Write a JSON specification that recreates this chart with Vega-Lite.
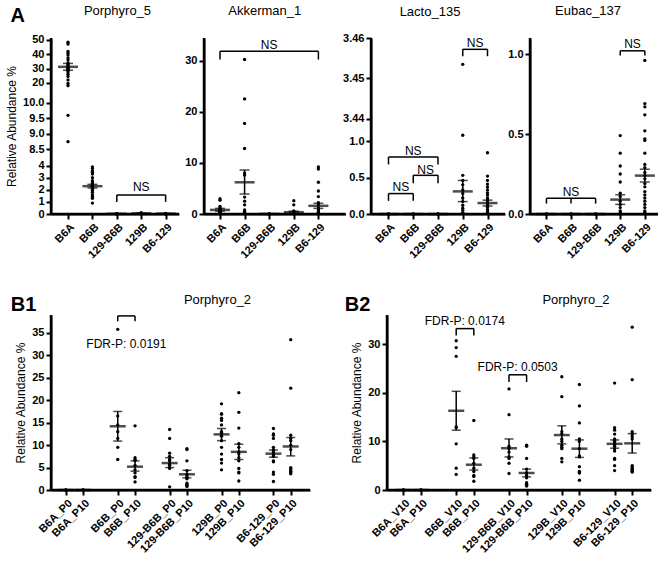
{
"$schema": "https://vega.github.io/schema/vega-lite/v6.json",
"padding": {"left": 5, "top": 4, "right": 0, "bottom": 0},
"config": {
 "font": "Liberation Sans",
 "view": {"stroke": null},
 "axis": {"domain": true, "domainColor": "#000", "domainWidth": 2, "tickColor": "#000", "tickWidth": 2, "tickSize": 5, "labelColor": "#000", "labelFont": "Liberation Sans", "labelFontSize": 11, "labelFontWeight": "bold", "labelPadding": 2, "labelOverlap": false, "titleColor": "#000", "titleFont": "Liberation Sans", "titleFontSize": 12, "titleFontWeight": "normal", "titlePadding": 4, "grid": false},
 "title": {"font": "Liberation Sans", "fontSize": 13, "fontWeight": "normal", "color": "#000", "baseline": "bottom"},
 "mark": {"color": "#000"}
},
"datasets": {
 "one": [{}],
 "p5": [
  {"g":"B6A","v":48.5},{"g":"B6A","v":47.2},{"g":"B6A","v":42.0},{"g":"B6A","v":40.8},{"g":"B6A","v":39.5},{"g":"B6A","v":37.5},{"g":"B6A","v":36.0},{"g":"B6A","v":34.0},{"g":"B6A","v":33.0},{"g":"B6A","v":32.0},{"g":"B6A","v":31.5},{"g":"B6A","v":31.0},{"g":"B6A","v":30.5},{"g":"B6A","v":30.0},{"g":"B6A","v":29.5},{"g":"B6A","v":28.5},{"g":"B6A","v":27.5},{"g":"B6A","v":26.0},{"g":"B6A","v":24.5},{"g":"B6A","v":22.0},{"g":"B6A","v":19.5},{"g":"B6A","v":18.0},{"g":"B6A","v":9.6},{"g":"B6A","v":8.75},
  {"g":"B6B","v":3.9},{"g":"B6B","v":3.75},{"g":"B6B","v":3.55},{"g":"B6B","v":3.45},{"g":"B6B","v":3.3},{"g":"B6B","v":3.0},{"g":"B6B","v":2.75},{"g":"B6B","v":2.6},{"g":"B6B","v":2.5},{"g":"B6B","v":2.4},{"g":"B6B","v":2.35},{"g":"B6B","v":2.3},{"g":"B6B","v":2.25},{"g":"B6B","v":2.2},{"g":"B6B","v":2.1},{"g":"B6B","v":2.0},{"g":"B6B","v":1.95},{"g":"B6B","v":1.8},{"g":"B6B","v":1.6},{"g":"B6B","v":1.45},{"g":"B6B","v":1.3},{"g":"B6B","v":0.9},
  {"g":"129-B6B","v":0.02},{"g":"129-B6B","v":0.01},{"g":"129-B6B","v":0.03},{"g":"129-B6B","v":0.0},
  {"g":"129B","v":0.08},{"g":"129B","v":0.05},{"g":"129B","v":0.1},{"g":"129B","v":0.03},
  {"g":"B6-129","v":0.05},{"g":"B6-129","v":0.02},{"g":"B6-129","v":0.03},{"g":"B6-129","v":0.0}
 ],
 "p5s": [
  {"g":"B6A","m":31.2,"lo":28.8,"hi":33.6},{"g":"B6B","m":2.3,"lo":2.15,"hi":2.45},{"g":"129-B6B","m":0.02,"lo":0.01,"hi":0.03},{"g":"129B","m":0.05,"lo":0.03,"hi":0.07},{"g":"B6-129","m":0.03,"lo":0.02,"hi":0.04}
 ],
 "p5h": [{"x1":"129-B6B","x2":"B6-129","y":1.58}],
 "p5l": [{"x":"129-B6B","y":1.58,"y0":1.0},{"x":"B6-129","y":1.58,"y0":1.0}],
 "p5t": [{"x":"129B","y":2.25,"t":"NS"}],
 "akk": [
  {"g":"B6A","v":3.0},{"g":"B6A","v":2.7},{"g":"B6A","v":1.5},{"g":"B6A","v":1.2},{"g":"B6A","v":1.0},{"g":"B6A","v":0.9},{"g":"B6A","v":0.8},{"g":"B6A","v":0.6},{"g":"B6A","v":0.5},{"g":"B6A","v":0.4},{"g":"B6A","v":0.3},{"g":"B6A","v":0.2},{"g":"B6A","v":0.1},{"g":"B6A","v":0.05},
  {"g":"B6B","v":30.2},{"g":"B6B","v":22.5},{"g":"B6B","v":17.7},{"g":"B6B","v":12.8},{"g":"B6B","v":8.0},{"g":"B6B","v":7.6},{"g":"B6B","v":3.3},{"g":"B6B","v":2.5},{"g":"B6B","v":1.8},{"g":"B6B","v":0.8},{"g":"B6B","v":0.5},{"g":"B6B","v":0.3},{"g":"B6B","v":0.2},{"g":"B6B","v":0.1},
  {"g":"129-B6B","v":0.02},{"g":"129-B6B","v":0.01},{"g":"129-B6B","v":0.0},
  {"g":"129B","v":2.6},{"g":"129B","v":1.8},{"g":"129B","v":0.6},{"g":"129B","v":0.4},{"g":"129B","v":0.2},{"g":"129B","v":0.1},{"g":"129B","v":0.05},
  {"g":"B6-129","v":9.2},{"g":"B6-129","v":8.8},{"g":"B6-129","v":6.2},{"g":"B6-129","v":4.5},{"g":"B6-129","v":3.4},{"g":"B6-129","v":2.2},{"g":"B6-129","v":1.8},{"g":"B6-129","v":1.2},{"g":"B6-129","v":0.9},{"g":"B6-129","v":0.6},{"g":"B6-129","v":0.4},{"g":"B6-129","v":0.3},{"g":"B6-129","v":0.2},{"g":"B6-129","v":0.1},{"g":"B6-129","v":0.05}
 ],
 "akks": [
  {"g":"B6A","m":0.8,"lo":0.55,"hi":1.1},{"g":"B6B","m":6.2,"lo":3.9,"hi":8.6},{"g":"129-B6B","m":0.02,"lo":0.01,"hi":0.03},{"g":"129B","m":0.35,"lo":0.15,"hi":0.55},{"g":"B6-129","m":1.6,"lo":1.1,"hi":2.1}
 ],
 "akkh": [{"x1":"B6A","x2":"B6-129","y":31.8}],
 "akkl": [{"x":"B6A","y":31.8,"y0":30.2},{"x":"B6-129","y":31.8,"y0":30.2}],
 "akkt": [{"x":"129-B6B","y":33.1,"t":"NS"}],
 "lac": [
  {"g":"B6A","v":0},{"g":"B6A","v":0},{"g":"B6B","v":0},{"g":"B6B","v":0},{"g":"129-B6B","v":0},{"g":"129-B6B","v":0},
  {"g":"129B","v":3.4535},{"g":"129B","v":1.08},{"g":"129B","v":0.53},{"g":"129B","v":0.46},{"g":"129B","v":0.40},{"g":"129B","v":0.33},{"g":"129B","v":0.28},{"g":"129B","v":0.22},{"g":"129B","v":0.17},{"g":"129B","v":0.12},{"g":"129B","v":0.08},{"g":"129B","v":0.05},{"g":"129B","v":0.02},{"g":"129B","v":0.01},
  {"g":"B6-129","v":0.84},{"g":"B6-129","v":0.52},{"g":"B6-129","v":0.46},{"g":"B6-129","v":0.41},{"g":"B6-129","v":0.37},{"g":"B6-129","v":0.33},{"g":"B6-129","v":0.29},{"g":"B6-129","v":0.26},{"g":"B6-129","v":0.22},{"g":"B6-129","v":0.19},{"g":"B6-129","v":0.16},{"g":"B6-129","v":0.13},{"g":"B6-129","v":0.11},{"g":"B6-129","v":0.09},{"g":"B6-129","v":0.06},{"g":"B6-129","v":0.04},{"g":"B6-129","v":0.02},{"g":"B6-129","v":0.01}
 ],
 "lacs": [
  {"g":"B6A","m":0,"lo":0,"hi":0},{"g":"B6B","m":0,"lo":0,"hi":0},{"g":"129-B6B","m":0,"lo":0,"hi":0},{"g":"129B","m":0.31,"lo":0.17,"hi":0.46},{"g":"B6-129","m":0.15,"lo":0.11,"hi":0.19}
 ],
 "lach": [{"x1":"B6A","x2":"B6B","y":0.28},{"x1":"B6B","x2":"129-B6B","y":0.53},{"x1":"B6A","x2":"129-B6B","y":0.78},{"x1":"129B","x2":"B6-129","y":3.4572}],
 "lacl": [{"x":"B6A","y":0.28,"y0":0.18},{"x":"B6B","y":0.28,"y0":0.18},{"x":"B6B","y":0.53,"y0":0.42},{"x":"129-B6B","y":0.53,"y0":0.42},{"x":"B6A","y":0.78,"y0":0.68},{"x":"129-B6B","y":0.78,"y0":0.68},{"x":"129B","y":3.4572,"y0":3.4555},{"x":"B6-129","y":3.4572,"y0":3.4555}],
 "lact": [{"x":"B6B","y":0.86,"t":"NS"}],
 "lacth": [{"x":"B6A","y":0.37,"t":"NS"},{"x":"B6B","y":0.61,"t":"NS"},{"x":"129B","y":3.4588,"t":"NS"}],
 "eub": [
  {"g":"B6A","v":0},{"g":"B6A","v":0},{"g":"B6B","v":0},{"g":"B6B","v":0},{"g":"129-B6B","v":0},{"g":"129-B6B","v":0},
  {"g":"129B","v":0.49},{"g":"129B","v":0.38},{"g":"129B","v":0.30},{"g":"129B","v":0.25},{"g":"129B","v":0.20},{"g":"129B","v":0.13},{"g":"129B","v":0.11},{"g":"129B","v":0.08},{"g":"129B","v":0.06},{"g":"129B","v":0.04},{"g":"129B","v":0.02},{"g":"129B","v":0.01},{"g":"129B","v":0.0},
  {"g":"B6-129","v":0.96},{"g":"B6-129","v":0.69},{"g":"B6-129","v":0.67},{"g":"B6-129","v":0.62},{"g":"B6-129","v":0.52},{"g":"B6-129","v":0.47},{"g":"B6-129","v":0.46},{"g":"B6-129","v":0.38},{"g":"B6-129","v":0.31},{"g":"B6-129","v":0.29},{"g":"B6-129","v":0.26},{"g":"B6-129","v":0.24},{"g":"B6-129","v":0.22},{"g":"B6-129","v":0.19},{"g":"B6-129","v":0.17},{"g":"B6-129","v":0.14},{"g":"B6-129","v":0.12},{"g":"B6-129","v":0.10},{"g":"B6-129","v":0.08},{"g":"B6-129","v":0.06},{"g":"B6-129","v":0.04},{"g":"B6-129","v":0.02},{"g":"B6-129","v":0.01}
 ],
 "eubs": [
  {"g":"B6A","m":0,"lo":0,"hi":0},{"g":"B6B","m":0,"lo":0,"hi":0},{"g":"129-B6B","m":0,"lo":0,"hi":0},{"g":"129B","m":0.09,"lo":0.06,"hi":0.12},{"g":"B6-129","m":0.24,"lo":0.20,"hi":0.28}
 ],
 "eubh": [{"x1":"B6A","x2":"129-B6B","y":0.098},{"x1":"129B","x2":"B6-129","y":1.02}],
 "eubl": [{"x":"B6A","y":0.098,"y0":0.065},{"x":"B6B","y":0.098,"y0":0.065},{"x":"129-B6B","y":0.098,"y0":0.065},{"x":"129B","y":1.02,"y0":0.99},{"x":"B6-129","y":1.02,"y0":0.99}],
 "eubt": [{"x":"B6B","y":0.14,"t":"NS"}],
 "eubth": [{"x":"129B","y":1.065,"t":"NS"}],
 "b1": [
  {"x":"B6A_P0","v":0},{"x":"B6A_P0","v":0},{"x":"B6A_P10","v":0},{"x":"B6A_P10","v":0},
  {"x":"B6B_P0","v":35.8},{"x":"B6B_P0","v":16.5},{"x":"B6B_P0","v":14.5},{"x":"B6B_P0","v":13.0},{"x":"B6B_P0","v":11.5},{"x":"B6B_P0","v":9.5},{"x":"B6B_P0","v":6.8},
  {"x":"B6B_P10","v":14.3},{"x":"B6B_P10","v":7.2},{"x":"B6B_P10","v":6.8},{"x":"B6B_P10","v":6.5},{"x":"B6B_P10","v":5.5},{"x":"B6B_P10","v":4.5},{"x":"B6B_P10","v":3.8},{"x":"B6B_P10","v":3.0},{"x":"B6B_P10","v":2.8},{"x":"B6B_P10","v":1.8},
  {"x":"129-B6B_P0","v":13.5},{"x":"129-B6B_P0","v":11.5},{"x":"129-B6B_P0","v":8.2},{"x":"129-B6B_P0","v":7.5},{"x":"129-B6B_P0","v":6.8},{"x":"129-B6B_P0","v":6.5},{"x":"129-B6B_P0","v":5.8},{"x":"129-B6B_P0","v":5.5},{"x":"129-B6B_P0","v":5.0},{"x":"129-B6B_P0","v":4.8},{"x":"129-B6B_P0","v":0.7},
  {"x":"129-B6B_P10","v":9.2},{"x":"129-B6B_P10","v":9.0},{"x":"129-B6B_P10","v":6.5},{"x":"129-B6B_P10","v":4.3},{"x":"129-B6B_P10","v":3.5},{"x":"129-B6B_P10","v":3.0},{"x":"129-B6B_P10","v":2.7},{"x":"129-B6B_P10","v":2.5},{"x":"129-B6B_P10","v":1.5},{"x":"129-B6B_P10","v":1.2},{"x":"129-B6B_P10","v":1.0},{"x":"129-B6B_P10","v":0.8},
  {"x":"129B_P0","v":19.2},{"x":"129B_P0","v":17.0},{"x":"129B_P0","v":16.9},{"x":"129B_P0","v":16.0},{"x":"129B_P0","v":15.5},{"x":"129B_P0","v":14.5},{"x":"129B_P0","v":13.0},{"x":"129B_P0","v":12.8},{"x":"129B_P0","v":12.5},{"x":"129B_P0","v":12.0},{"x":"129B_P0","v":11.0},{"x":"129B_P0","v":9.5},{"x":"129B_P0","v":8.0},{"x":"129B_P0","v":6.8},{"x":"129B_P0","v":6.0},{"x":"129B_P0","v":4.5},
  {"x":"129B_P10","v":21.7},{"x":"129B_P10","v":17.3},{"x":"129B_P10","v":13.8},{"x":"129B_P10","v":10.3},{"x":"129B_P10","v":9.5},{"x":"129B_P10","v":8.5},{"x":"129B_P10","v":8.0},{"x":"129B_P10","v":7.2},{"x":"129B_P10","v":6.5},{"x":"129B_P10","v":4.8},{"x":"129B_P10","v":4.0},{"x":"129B_P10","v":3.8},{"x":"129B_P10","v":2.0},
  {"x":"B6-129_P0","v":13.7},{"x":"B6-129_P0","v":12.5},{"x":"B6-129_P0","v":12.2},{"x":"B6-129_P0","v":11.5},{"x":"B6-129_P0","v":9.5},{"x":"B6-129_P0","v":9.0},{"x":"B6-129_P0","v":8.5},{"x":"B6-129_P0","v":8.0},{"x":"B6-129_P0","v":7.8},{"x":"B6-129_P0","v":7.5},{"x":"B6-129_P0","v":6.5},{"x":"B6-129_P0","v":6.3},{"x":"B6-129_P0","v":4.0},{"x":"B6-129_P0","v":3.5},{"x":"B6-129_P0","v":1.9},
  {"x":"B6-129_P10","v":33.5},{"x":"B6-129_P10","v":22.7},{"x":"B6-129_P10","v":12.2},{"x":"B6-129_P10","v":11.5},{"x":"B6-129_P10","v":11.0},{"x":"B6-129_P10","v":10.0},{"x":"B6-129_P10","v":9.0},{"x":"B6-129_P10","v":5.0},{"x":"B6-129_P10","v":4.8},{"x":"B6-129_P10","v":4.5},{"x":"B6-129_P10","v":4.2},{"x":"B6-129_P10","v":4.0},{"x":"B6-129_P10","v":3.8},{"x":"B6-129_P10","v":3.6}
 ],
 "b1s": [
  {"x":"B6A_P0","m":0,"lo":0,"hi":0},{"x":"B6A_P10","m":0,"lo":0,"hi":0},
  {"x":"B6B_P0","m":14.2,"lo":10.9,"hi":17.5},{"x":"B6B_P10","m":5.2,"lo":4.2,"hi":6.5},
  {"x":"129-B6B_P0","m":6.0,"lo":5.0,"hi":7.2},{"x":"129-B6B_P10","m":3.5,"lo":2.7,"hi":4.4},
  {"x":"129B_P0","m":12.4,"lo":11.0,"hi":13.7},{"x":"129B_P10","m":8.5,"lo":6.8,"hi":10.2},
  {"x":"B6-129_P0","m":8.1,"lo":7.3,"hi":8.9},{"x":"B6-129_P10","m":9.7,"lo":7.6,"hi":11.7}
 ],
 "b1h": [{"x1":"B6B_P0","x2":"B6B_P10","y":38.8}],
 "b1l": [{"x":"B6B_P0","y":38.8,"y0":37.6},{"x":"B6B_P10","y":38.8,"y0":37.6}],
 "b1t": [{"x":"B6B_P0","y":32.6,"t":"FDR-P: 0.0191"}],
 "b2": [
  {"x":"B6A_V10","v":0},{"x":"B6A_V10","v":0},{"x":"B6A_P10","v":0},{"x":"B6A_P10","v":0},
  {"x":"B6B_V10","v":30.7},{"x":"B6B_V10","v":29.3},{"x":"B6B_V10","v":27.5},{"x":"B6B_V10","v":13.0},{"x":"B6B_V10","v":12.8},{"x":"B6B_V10","v":9.5},{"x":"B6B_V10","v":4.5},{"x":"B6B_V10","v":3.2},
  {"x":"B6B_P10","v":14.3},{"x":"B6B_P10","v":7.2},{"x":"B6B_P10","v":6.8},{"x":"B6B_P10","v":6.5},{"x":"B6B_P10","v":5.5},{"x":"B6B_P10","v":4.5},{"x":"B6B_P10","v":3.8},{"x":"B6B_P10","v":3.0},{"x":"B6B_P10","v":2.8},{"x":"B6B_P10","v":1.8},
  {"x":"129-B6B_V10","v":20.8},{"x":"129-B6B_V10","v":15.5},{"x":"129-B6B_V10","v":9.0},{"x":"129-B6B_V10","v":8.5},{"x":"129-B6B_V10","v":7.8},{"x":"129-B6B_V10","v":6.8},{"x":"129-B6B_V10","v":6.5},{"x":"129-B6B_V10","v":5.5},{"x":"129-B6B_V10","v":3.4},
  {"x":"129-B6B_P10","v":9.2},{"x":"129-B6B_P10","v":9.0},{"x":"129-B6B_P10","v":6.5},{"x":"129-B6B_P10","v":4.3},{"x":"129-B6B_P10","v":3.5},{"x":"129-B6B_P10","v":3.0},{"x":"129-B6B_P10","v":2.5},{"x":"129-B6B_P10","v":1.5},{"x":"129-B6B_P10","v":1.2},{"x":"129-B6B_P10","v":1.0},{"x":"129-B6B_P10","v":0.8},
  {"x":"129B_V10","v":23.3},{"x":"129B_V10","v":19.2},{"x":"129B_V10","v":12.0},{"x":"129B_V10","v":11.5},{"x":"129B_V10","v":10.5},{"x":"129B_V10","v":10.0},{"x":"129B_V10","v":9.2},{"x":"129B_V10","v":8.8},{"x":"129B_V10","v":8.5},{"x":"129B_V10","v":6.5},{"x":"129B_V10","v":5.8},
  {"x":"129B_P10","v":21.7},{"x":"129B_P10","v":17.3},{"x":"129B_P10","v":13.8},{"x":"129B_P10","v":10.5},{"x":"129B_P10","v":10.0},{"x":"129B_P10","v":8.5},{"x":"129B_P10","v":7.0},{"x":"129B_P10","v":6.8},{"x":"129B_P10","v":4.8},{"x":"129B_P10","v":3.8},{"x":"129B_P10","v":3.6},{"x":"129B_P10","v":3.5},{"x":"129B_P10","v":2.0},
  {"x":"B6-129_V10","v":22.0},{"x":"B6-129_V10","v":12.8},{"x":"B6-129_V10","v":12.3},{"x":"B6-129_V10","v":11.5},{"x":"B6-129_V10","v":10.5},{"x":"B6-129_V10","v":10.2},{"x":"B6-129_V10","v":10.0},{"x":"B6-129_V10","v":9.5},{"x":"B6-129_V10","v":9.3},{"x":"B6-129_V10","v":9.0},{"x":"B6-129_V10","v":8.5},{"x":"B6-129_V10","v":8.0},{"x":"B6-129_V10","v":6.5},{"x":"B6-129_V10","v":6.3},{"x":"B6-129_V10","v":5.0},{"x":"B6-129_V10","v":4.0},
  {"x":"B6-129_P10","v":33.5},{"x":"B6-129_P10","v":22.7},{"x":"B6-129_P10","v":12.0},{"x":"B6-129_P10","v":11.5},{"x":"B6-129_P10","v":11.0},{"x":"B6-129_P10","v":10.5},{"x":"B6-129_P10","v":5.0},{"x":"B6-129_P10","v":4.8},{"x":"B6-129_P10","v":4.5},{"x":"B6-129_P10","v":4.2},{"x":"B6-129_P10","v":4.0},{"x":"B6-129_P10","v":3.8},{"x":"B6-129_P10","v":3.7}
 ],
 "b2s": [
  {"x":"B6A_V10","m":0,"lo":0,"hi":0},{"x":"B6A_P10","m":0,"lo":0,"hi":0},
  {"x":"B6B_V10","m":16.3,"lo":12.3,"hi":20.3},{"x":"B6B_P10","m":5.2,"lo":4.1,"hi":6.6},
  {"x":"129-B6B_V10","m":8.6,"lo":6.8,"hi":10.5},{"x":"129-B6B_P10","m":3.5,"lo":2.7,"hi":4.3},
  {"x":"129B_V10","m":11.3,"lo":9.5,"hi":13.2},{"x":"129B_P10","m":8.5,"lo":6.7,"hi":10.3},
  {"x":"B6-129_V10","m":9.5,"lo":8.6,"hi":10.3},{"x":"B6-129_P10","m":9.6,"lo":7.6,"hi":11.6}
 ],
 "b2h": [{"x1":"B6B_V10","x2":"B6B_P10","y":33.2},{"x1":"129-B6B_V10","x2":"129-B6B_P10","y":23.7}],
 "b2l": [{"x":"B6B_V10","y":33.2,"y0":31.8},{"x":"B6B_P10","y":33.2,"y0":31.8},{"x":"129-B6B_V10","y":23.7,"y0":22.2},{"x":"129-B6B_P10","y":23.7,"y0":22.2}],
 "b2t": [{"x":"B6B_V10","y":34.8,"t":"FDR-P: 0.0174"},{"x":"129-B6B_V10","y":25.3,"t":"FDR-P: 0.0503"}]
},
"spacing": 33,
"vconcat": [
 {
  "hconcat": [
   {
    "width": 128, "height": 176,
    "title": {"text": "Porphyro_5", "frame": "group", "dx": 2.5, "offset": 15.5},
    "resolve": {"scale": {"x": "independent"}},
    "layer": [
     {"layer": [
     {"data": {"name": "p5"}, "mark": {"type": "circle", "size": 11, "opacity": 1},
      "encoding": {
       "x": {"field": "g", "type": "nominal", "scale": {"type": "point", "domain": ["B6A","B6B","129-B6B","129B","B6-129"], "padding": 0.623, "align": 0.56}, "axis": {"title": null, "labelAngle": -45}},
       "y": {"field": "v", "type": "quantitative", "scale": {"domain": [0, 4.38, 8.48, 10.19, 17.76, 51.4], "range": [176, 123, 112, 59, 48, 0], "nice": false, "zero": false}, "axis": {"title": "Relative Abundance %", "tickCount": 30, "values": [0,1,2,3,4,8.5,9,9.5,10,20,30,40,50], "labelExpr": "datum.value > 5 && datum.value < 15 ? format(datum.value, '.1f') : format(datum.value, 'd')"}}}},
     {"data": {"name": "p5s"}, "mark": {"type": "rule", "strokeWidth": 1.5},
      "encoding": {"x": {"field": "g", "type": "nominal", "title": null}, "y": {"field": "lo", "type": "quantitative"}, "y2": {"field": "hi"}}},
     {"data": {"name": "p5s"}, "mark": {"type": "tick", "size": 20, "thickness": 2.5},
      "encoding": {"x": {"field": "g", "type": "nominal", "title": null}, "y": {"field": "m", "type": "quantitative"}}},
     {"data": {"name": "p5s"}, "mark": {"type": "tick", "size": 10, "thickness": 1.5},
      "encoding": {"x": {"field": "g", "type": "nominal", "title": null}, "y": {"field": "lo", "type": "quantitative"}}},
     {"data": {"name": "p5s"}, "mark": {"type": "tick", "size": 10, "thickness": 1.5},
      "encoding": {"x": {"field": "g", "type": "nominal", "title": null}, "y": {"field": "hi", "type": "quantitative"}}},
     {"data": {"name": "p5h"}, "mark": {"type": "rule", "strokeWidth": 1.5},
      "encoding": {"x": {"field": "x1", "type": "nominal", "title": null}, "x2": {"field": "x2"}, "y": {"field": "y", "type": "quantitative"}}},
     {"data": {"name": "p5l"}, "mark": {"type": "rule", "strokeWidth": 1.5},
      "encoding": {"x": {"field": "x", "type": "nominal", "title": null}, "y": {"field": "y", "type": "quantitative"}, "y2": {"field": "y0"}}},
     {"data": {"name": "p5t"}, "mark": {"type": "text", "fontSize": 12, "baseline": "middle"},
      "encoding": {"x": {"field": "x", "type": "nominal", "title": null}, "y": {"field": "y", "type": "quantitative"}, "text": {"field": "t"}}}
     ]},
     {"data": {"name": "one"}, "mark": {"type": "rule", "strokeWidth": 2.5, "color": "black", "opacity": 1}, "encoding": {"x": {"datum": 0, "type": "quantitative", "scale": {"domain": [0, 1]}, "axis": null}}},
     {"data": {"name": "one"}, "mark": {"type": "rule", "strokeWidth": 2.5, "color": "black", "opacity": 1}, "encoding": {"y": {"datum": 0, "type": "quantitative"}}}
    ]
   },
   {
    "width": 141.5, "height": 176,
    "title": {"text": "Akkerman_1", "frame": "group", "dx": -10, "offset": 19},
    "resolve": {"scale": {"x": "independent"}},
    "layer": [
     {"layer": [
     {"data": {"name": "akk"}, "mark": {"type": "circle", "size": 11, "opacity": 1},
      "encoding": {
       "x": {"field": "g", "type": "nominal", "scale": {"type": "point", "domain": ["B6A","B6B","129-B6B","129B","B6-129"], "padding": 0.876, "align": 0.371}, "axis": {"title": null, "labelAngle": -45}},
       "y": {"field": "v", "type": "quantitative", "scale": {"domain": [0, 34.4], "nice": false}, "axis": {"title": null, "tickCount": 30, "values": [0,10,20,30]}}}},
     {"data": {"name": "akks"}, "mark": {"type": "rule", "strokeWidth": 1.5},
      "encoding": {"x": {"field": "g", "type": "nominal", "title": null}, "y": {"field": "lo", "type": "quantitative", "title": null}, "y2": {"field": "hi"}}},
     {"data": {"name": "akks"}, "mark": {"type": "tick", "size": 20, "thickness": 2.5},
      "encoding": {"x": {"field": "g", "type": "nominal", "title": null}, "y": {"field": "m", "type": "quantitative", "title": null}}},
     {"data": {"name": "akks"}, "mark": {"type": "tick", "size": 10, "thickness": 1.5},
      "encoding": {"x": {"field": "g", "type": "nominal", "title": null}, "y": {"field": "lo", "type": "quantitative", "title": null}}},
     {"data": {"name": "akks"}, "mark": {"type": "tick", "size": 10, "thickness": 1.5},
      "encoding": {"x": {"field": "g", "type": "nominal", "title": null}, "y": {"field": "hi", "type": "quantitative", "title": null}}},
     {"data": {"name": "akkh"}, "mark": {"type": "rule", "strokeWidth": 1.5},
      "encoding": {"x": {"field": "x1", "type": "nominal", "title": null}, "x2": {"field": "x2"}, "y": {"field": "y", "type": "quantitative", "title": null}}},
     {"data": {"name": "akkl"}, "mark": {"type": "rule", "strokeWidth": 1.5},
      "encoding": {"x": {"field": "x", "type": "nominal", "title": null}, "y": {"field": "y", "type": "quantitative", "title": null}, "y2": {"field": "y0"}}},
     {"data": {"name": "akkt"}, "mark": {"type": "text", "fontSize": 12, "baseline": "middle"},
      "encoding": {"x": {"field": "x", "type": "nominal", "title": null}, "y": {"field": "y", "type": "quantitative", "title": null}, "text": {"field": "t"}}}
     ]},
     {"data": {"name": "one"}, "mark": {"type": "rule", "strokeWidth": 2.5, "color": "black", "opacity": 1}, "encoding": {"x": {"datum": 0, "type": "quantitative", "scale": {"domain": [0, 1]}, "axis": null}}},
     {"data": {"name": "one"}, "mark": {"type": "rule", "strokeWidth": 2.5, "color": "black", "opacity": 1}, "encoding": {"y": {"datum": 0, "type": "quantitative"}}}
    ]
   },
   {
    "width": 134, "height": 176,
    "title": {"text": "Lacto_135", "frame": "group", "dx": -8, "offset": 13.5},
    "resolve": {"scale": {"x": "independent"}},
    "layer": [
     {"layer": [
     {"data": {"name": "lac"}, "mark": {"type": "circle", "size": 11, "opacity": 1},
      "encoding": {
       "x": {"field": "g", "type": "nominal", "scale": {"type": "point", "domain": ["B6A","B6B","129-B6B","129B","B6-129"], "padding": 0.707, "align": 0.5}, "axis": {"title": null, "labelAngle": -45}},
       "y": {"field": "v", "type": "quantitative", "scale": {"domain": [0, 1.09, 3.4395, 3.46], "range": [176, 96.5, 83, 0], "nice": false, "zero": false}, "axis": {"title": null, "tickCount": 30, "values": [0,0.5,1,3.44,3.45,3.46], "labelExpr": "datum.value > 2 ? format(datum.value, '.2f') : format(datum.value, '.1f')"}}}},
     {"data": {"name": "lacs"}, "mark": {"type": "rule", "strokeWidth": 1.5},
      "encoding": {"x": {"field": "g", "type": "nominal", "title": null}, "y": {"field": "lo", "type": "quantitative", "title": null}, "y2": {"field": "hi"}}},
     {"data": {"name": "lacs"}, "mark": {"type": "tick", "size": 20, "thickness": 2.5},
      "encoding": {"x": {"field": "g", "type": "nominal", "title": null}, "y": {"field": "m", "type": "quantitative", "title": null}}},
     {"data": {"name": "lacs"}, "mark": {"type": "tick", "size": 10, "thickness": 1.5},
      "encoding": {"x": {"field": "g", "type": "nominal", "title": null}, "y": {"field": "lo", "type": "quantitative", "title": null}}},
     {"data": {"name": "lacs"}, "mark": {"type": "tick", "size": 10, "thickness": 1.5},
      "encoding": {"x": {"field": "g", "type": "nominal", "title": null}, "y": {"field": "hi", "type": "quantitative", "title": null}}},
     {"data": {"name": "lach"}, "mark": {"type": "rule", "strokeWidth": 1.5},
      "encoding": {"x": {"field": "x1", "type": "nominal", "title": null}, "x2": {"field": "x2"}, "y": {"field": "y", "type": "quantitative", "title": null}}},
     {"data": {"name": "lacl"}, "mark": {"type": "rule", "strokeWidth": 1.5},
      "encoding": {"x": {"field": "x", "type": "nominal", "title": null}, "y": {"field": "y", "type": "quantitative", "title": null}, "y2": {"field": "y0"}}},
     {"data": {"name": "lact"}, "mark": {"type": "text", "fontSize": 12, "baseline": "middle"},
      "encoding": {"x": {"field": "x", "type": "nominal", "title": null}, "y": {"field": "y", "type": "quantitative", "title": null}, "text": {"field": "t"}}},
     {"data": {"name": "lacth"}, "mark": {"type": "text", "fontSize": 12, "baseline": "middle", "dx": 12.4},
      "encoding": {"x": {"field": "x", "type": "nominal", "title": null}, "y": {"field": "y", "type": "quantitative", "title": null}, "text": {"field": "t"}}}
     ]},
     {"data": {"name": "one"}, "mark": {"type": "rule", "strokeWidth": 2.5, "color": "black", "opacity": 1}, "encoding": {"x": {"datum": 0, "type": "quantitative", "scale": {"domain": [0, 1]}, "axis": null}}},
     {"data": {"name": "one"}, "mark": {"type": "rule", "strokeWidth": 2.5, "color": "black", "opacity": 1}, "encoding": {"y": {"datum": 0, "type": "quantitative"}}}
    ]
   },
   {
    "width": 130, "height": 176,
    "title": {"text": "Eubac_137", "frame": "group", "dx": -7, "offset": 19},
    "resolve": {"scale": {"x": "independent"}},
    "layer": [
     {"layer": [
     {"data": {"name": "eub"}, "mark": {"type": "circle", "size": 11, "opacity": 1},
      "encoding": {
       "x": {"field": "g", "type": "nominal", "scale": {"type": "point", "domain": ["B6A","B6B","129-B6B","129B","B6-129"], "padding": 0.642, "align": 0.52}, "axis": {"title": null, "labelAngle": -45}},
       "y": {"field": "v", "type": "quantitative", "scale": {"domain": [0, 1.1], "nice": false}, "axis": {"title": null, "tickCount": 30, "values": [0,0.5,1], "format": ".1f"}}}},
     {"data": {"name": "eubs"}, "mark": {"type": "rule", "strokeWidth": 1.5},
      "encoding": {"x": {"field": "g", "type": "nominal", "title": null}, "y": {"field": "lo", "type": "quantitative", "title": null}, "y2": {"field": "hi"}}},
     {"data": {"name": "eubs"}, "mark": {"type": "tick", "size": 20, "thickness": 2.5},
      "encoding": {"x": {"field": "g", "type": "nominal", "title": null}, "y": {"field": "m", "type": "quantitative", "title": null}}},
     {"data": {"name": "eubs"}, "mark": {"type": "tick", "size": 10, "thickness": 1.5},
      "encoding": {"x": {"field": "g", "type": "nominal", "title": null}, "y": {"field": "lo", "type": "quantitative", "title": null}}},
     {"data": {"name": "eubs"}, "mark": {"type": "tick", "size": 10, "thickness": 1.5},
      "encoding": {"x": {"field": "g", "type": "nominal", "title": null}, "y": {"field": "hi", "type": "quantitative", "title": null}}},
     {"data": {"name": "eubh"}, "mark": {"type": "rule", "strokeWidth": 1.5},
      "encoding": {"x": {"field": "x1", "type": "nominal", "title": null}, "x2": {"field": "x2"}, "y": {"field": "y", "type": "quantitative", "title": null}}},
     {"data": {"name": "eubl"}, "mark": {"type": "rule", "strokeWidth": 1.5},
      "encoding": {"x": {"field": "x", "type": "nominal", "title": null}, "y": {"field": "y", "type": "quantitative", "title": null}, "y2": {"field": "y0"}}},
     {"data": {"name": "eubt"}, "mark": {"type": "text", "fontSize": 12, "baseline": "middle"},
      "encoding": {"x": {"field": "x", "type": "nominal", "title": null}, "y": {"field": "y", "type": "quantitative", "title": null}, "text": {"field": "t"}}},
     {"data": {"name": "eubth"}, "mark": {"type": "text", "fontSize": 12, "baseline": "middle", "dx": 12.3},
      "encoding": {"x": {"field": "x", "type": "nominal", "title": null}, "y": {"field": "y", "type": "quantitative", "title": null}, "text": {"field": "t"}}}
     ]},
     {"data": {"name": "one"}, "mark": {"type": "rule", "strokeWidth": 2.5, "color": "black", "opacity": 1}, "encoding": {"x": {"datum": 0, "type": "quantitative", "scale": {"domain": [0, 1]}, "axis": null}}},
     {"data": {"name": "one"}, "mark": {"type": "rule", "strokeWidth": 2.5, "color": "black", "opacity": 1}, "encoding": {"y": {"datum": 0, "type": "quantitative"}}}
    ]
   }
  ],
  "spacing": 25,
  "bounds": "flush",
  "title": {"text": "A", "anchor": "start", "fontSize": 20, "fontWeight": "bold", "offset": -21, "dx": 5}
 },
 {
  "hconcat": [
   {
    "vconcat": [
     {
      "width": 259, "height": 175,
      "title": {"text": "Porphyro_2", "frame": "group", "dx": 37, "offset": 7},
      "resolve": {"scale": {"x": "independent"}},
      "layer": [
       {"layer": [
       {"data": {"name": "b1"}, "mark": {"type": "circle", "size": 11, "opacity": 1},
        "encoding": {
         "x": {"field": "x", "type": "nominal", "scale": {"type": "point", "domain": ["B6A_P0","B6A_P10","gap1","B6B_P0","B6B_P10","gap2","129-B6B_P0","129-B6B_P10","gap3","129B_P0","129B_P10","gap4","B6-129_P0","B6-129_P10"], "padding": 0.986, "align": 0.435}, "axis": {"title": null, "labelAngle": -45, "values": ["B6A_P0","B6A_P10","B6B_P0","B6B_P10","129-B6B_P0","129-B6B_P10","129B_P0","129B_P10","B6-129_P0","B6-129_P10"]}},
         "y": {"field": "v", "type": "quantitative", "scale": {"domain": [0, 39], "nice": false}, "axis": {"title": "Relative Abundance %", "tickCount": 30, "values": [0,5,10,15,20,25,30,35]}}}},
       {"data": {"name": "b1s"}, "mark": {"type": "rule", "strokeWidth": 1.5},
        "encoding": {"x": {"field": "x", "type": "nominal", "title": null}, "y": {"field": "lo", "type": "quantitative"}, "y2": {"field": "hi"}}},
       {"data": {"name": "b1s"}, "mark": {"type": "tick", "size": 16, "thickness": 2.5},
        "encoding": {"x": {"field": "x", "type": "nominal", "title": null}, "y": {"field": "m", "type": "quantitative"}}},
       {"data": {"name": "b1s"}, "mark": {"type": "tick", "size": 9, "thickness": 1.5},
        "encoding": {"x": {"field": "x", "type": "nominal", "title": null}, "y": {"field": "lo", "type": "quantitative"}}},
       {"data": {"name": "b1s"}, "mark": {"type": "tick", "size": 9, "thickness": 1.5},
        "encoding": {"x": {"field": "x", "type": "nominal", "title": null}, "y": {"field": "hi", "type": "quantitative"}}},
       {"data": {"name": "b1h"}, "mark": {"type": "rule", "strokeWidth": 1.5},
        "encoding": {"x": {"field": "x1", "type": "nominal", "title": null}, "x2": {"field": "x2"}, "y": {"field": "y", "type": "quantitative"}}},
       {"data": {"name": "b1l"}, "mark": {"type": "rule", "strokeWidth": 1.5},
        "encoding": {"x": {"field": "x", "type": "nominal", "title": null}, "y": {"field": "y", "type": "quantitative"}, "y2": {"field": "y0"}}},
       {"data": {"name": "b1t"}, "mark": {"type": "text", "fontSize": 12, "baseline": "middle", "dx": 8.65},
        "encoding": {"x": {"field": "x", "type": "nominal", "title": null}, "y": {"field": "y", "type": "quantitative"}, "text": {"field": "t"}}}
       ]},
       {"data": {"name": "one"}, "mark": {"type": "rule", "strokeWidth": 2.5, "color": "black", "opacity": 1}, "encoding": {"x": {"datum": 0, "type": "quantitative", "scale": {"domain": [0, 1]}, "axis": null}}},
       {"data": {"name": "one"}, "mark": {"type": "rule", "strokeWidth": 2.5, "color": "black", "opacity": 1}, "encoding": {"y": {"datum": 0, "type": "quantitative"}}}
      ]
     }
    ],
    "title": {"text": "B1", "anchor": "start", "fontSize": 20, "fontWeight": "bold", "offset": -21, "dx": -4}
   },
   {
    "vconcat": [
     {
      "width": 264, "height": 175,
      "title": {"text": "Porphyro_2", "frame": "group", "dx": 57, "offset": 7},
      "resolve": {"scale": {"x": "independent"}},
      "layer": [
       {"layer": [
       {"data": {"name": "b2"}, "mark": {"type": "circle", "size": 11, "opacity": 1},
        "encoding": {
         "x": {"field": "x", "type": "nominal", "scale": {"type": "point", "domain": ["B6A_V10","B6A_P10","gap1","B6B_V10","B6B_P10","gap2","129-B6B_V10","129-B6B_P10","gap3","129B_V10","129B_P10","gap4","B6-129_V10","B6-129_P10"], "padding": 1.157, "align": 0.466}, "axis": {"title": null, "labelAngle": -45, "values": ["B6A_V10","B6A_P10","B6B_V10","B6B_P10","129-B6B_V10","129-B6B_P10","129B_V10","129B_P10","B6-129_V10","B6-129_P10"]}},
         "y": {"field": "v", "type": "quantitative", "scale": {"domain": [0, 36], "nice": false}, "axis": {"title": "Relative Abundance %", "tickCount": 30, "values": [0,10,20,30]}}}},
       {"data": {"name": "b2s"}, "mark": {"type": "rule", "strokeWidth": 1.5},
        "encoding": {"x": {"field": "x", "type": "nominal", "title": null}, "y": {"field": "lo", "type": "quantitative"}, "y2": {"field": "hi"}}},
       {"data": {"name": "b2s"}, "mark": {"type": "tick", "size": 16, "thickness": 2.5},
        "encoding": {"x": {"field": "x", "type": "nominal", "title": null}, "y": {"field": "m", "type": "quantitative"}}},
       {"data": {"name": "b2s"}, "mark": {"type": "tick", "size": 9, "thickness": 1.5},
        "encoding": {"x": {"field": "x", "type": "nominal", "title": null}, "y": {"field": "lo", "type": "quantitative"}}},
       {"data": {"name": "b2s"}, "mark": {"type": "tick", "size": 9, "thickness": 1.5},
        "encoding": {"x": {"field": "x", "type": "nominal", "title": null}, "y": {"field": "hi", "type": "quantitative"}}},
       {"data": {"name": "b2h"}, "mark": {"type": "rule", "strokeWidth": 1.5},
        "encoding": {"x": {"field": "x1", "type": "nominal", "title": null}, "x2": {"field": "x2"}, "y": {"field": "y", "type": "quantitative"}}},
       {"data": {"name": "b2l"}, "mark": {"type": "rule", "strokeWidth": 1.5},
        "encoding": {"x": {"field": "x", "type": "nominal", "title": null}, "y": {"field": "y", "type": "quantitative"}, "y2": {"field": "y0"}}},
       {"data": {"name": "b2t"}, "mark": {"type": "text", "fontSize": 12, "baseline": "middle", "dx": 8.6},
        "encoding": {"x": {"field": "x", "type": "nominal", "title": null}, "y": {"field": "y", "type": "quantitative"}, "text": {"field": "t"}}}
       ]},
       {"data": {"name": "one"}, "mark": {"type": "rule", "strokeWidth": 2.5, "color": "black", "opacity": 1}, "encoding": {"x": {"datum": 0, "type": "quantitative", "scale": {"domain": [0, 1]}, "axis": null}}},
       {"data": {"name": "one"}, "mark": {"type": "rule", "strokeWidth": 2.5, "color": "black", "opacity": 1}, "encoding": {"y": {"datum": 0, "type": "quantitative"}}}
      ]
     }
    ],
    "title": {"text": "B2", "anchor": "start", "fontSize": 20, "fontWeight": "bold", "offset": -21, "dx": -6}
   }
  ],
  "spacing": 32
 }
]
}
